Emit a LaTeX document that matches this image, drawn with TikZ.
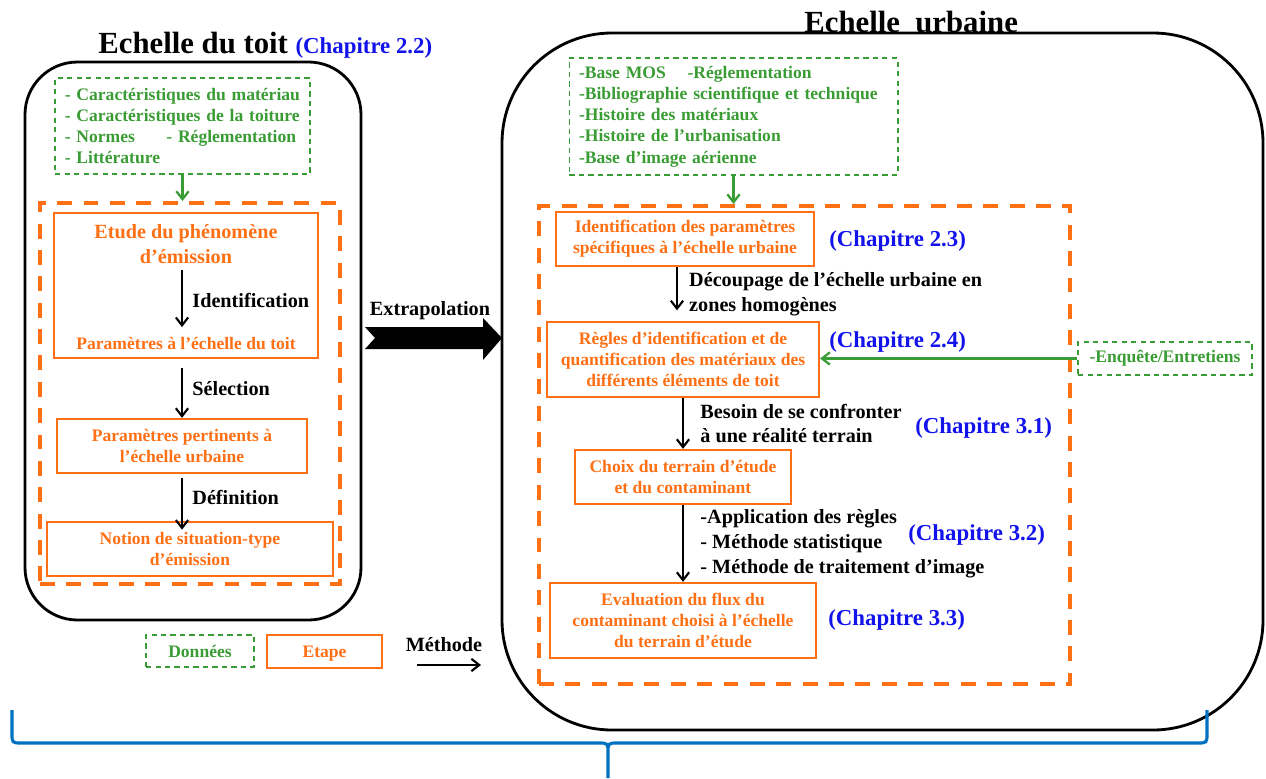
\documentclass[tikz,border=0pt]{standalone}
\usepackage{fontspec}
\setmainfont{Liberation Serif}
\usepackage{tikz}
\usetikzlibrary{arrows.meta,calc,positioning}
\definecolor{DataGreen}{RGB}{58,156,52}
\definecolor{StepOrange}{RGB}{255,111,20}
\definecolor{ChapBlue}{RGB}{18,18,235}
\definecolor{BraceBlue}{RGB}{0,112,192}
\newcommand\datfont{\bfseries\fontsize{10}{12.1}\selectfont}
\newcommand\lblfont{\bfseries\fontsize{11.5}{14.2}\selectfont}
\newcommand\chapfont{\bfseries\fontsize{13}{15}\selectfont}
\newcommand\titfont{\bfseries\fontsize{17.5}{20}\selectfont}
\begin{document}
\begin{tikzpicture}[x=.02cm,y=-.02cm,
  datbox/.style={draw=DataGreen,text=DataGreen,line width=1pt,dash pattern=on 3pt off 2.4pt,font=\datfont,inner xsep=5.5pt},
  stepbox/.style={draw=StepOrange,text=StepOrange,line width=1.3pt,font=\datfont,align=center,inner sep=0pt},
  zone/.style={draw=StepOrange,line width=2.3pt,dash pattern=on 8.5pt off 6.5pt,inner sep=0pt},
  frame/.style={draw,line width=1.6pt},
  lbl/.style={font=\lblfont,align=left},
  chap/.style={font=\chapfont,text=ChapBlue,anchor=west,inner sep=0pt},
  meth/.style={-{Straight Barb[length=4.5pt,width=7pt]},line width=1.2pt},
  datarrow/.style={meth,DataGreen,line width=1.3pt}]
\useasboundingbox (0,0) rectangle (1266,778);
\draw[frame,rounded corners=1.05cm] (25,62) rectangle (361,620);
\draw[frame,rounded corners=2.2cm] (502,33) rectangle (1263,730);
\node[font=\titfont,anchor=base west,inner sep=0pt] (titoit) at (98,53) {Echelle du toit {\chapfont\color{ChapBlue}(Chapitre 2.2)}};
\node[font=\titfont,anchor=base west,inner sep=0pt] (titurb) at (804,32) {Echelle\ \ urbaine};
\node[datbox,text width=4.71cm,minimum height=1.92cm,align=left] (datL) at (182.5,126) {- Caractéristiques du matériau\\- Caractéristiques de la toiture\\\makebox[57.8pt][l]{- Normes}- Réglementation\\- Littérature};
\node[zone,minimum width=6cm,minimum height=7.62cm] (zoneL) at (190,393.5) {};
\draw[datarrow] (datL.south) -- (datL.south |- zoneL.north);
\node[stepbox,minimum width=5.28cm,minimum height=2.9cm] (etudebox) at (186,285.5) {};
\node[text=StepOrange,font=\lblfont,align=center] (etude) at (186,244.5) {Etude du phénomène\\d’émission};
\node[text=StepOrange,font=\datfont] (partoit) at (186,343) {Paramètres à l’échelle du toit};
\node[stepbox,minimum width=5cm,minimum height=1.08cm] (pert) at (182,446) {Paramètres pertinents à\\l’échelle urbaine};
\node[stepbox,minimum width=5.72cm,minimum height=1.08cm] (notion) at (190,549) {Notion de situation-type\\d’émission};
\coordinate (colL) at (182,0);
\draw[meth,shorten >=2pt] (etude.south -| colL) -- node[lbl,right=2pt] (lbident) {Identification} (partoit.north -| colL);
\draw[meth,shorten <=5pt] (etudebox.south -| colL) -- node[lbl,right=2pt] (lbsel) {Sélection} (pert.north -| colL);
\draw[meth,shorten <=2pt,shorten >=-5pt] (pert.south -| colL) -- node[lbl,right=2pt] (lbdef) {Définition} (notion.north -| colL);
\node[datbox,minimum width=2.16cm,minimum height=.64cm] (legdat) at (200,651) {Données};
\node[stepbox,minimum width=2.3cm,minimum height=.66cm,text depth=0pt] (legstep) at (324.5,651.5) {Etape};
\node[lbl] (legmeth) at (444,645) {Méthode};
\coordinate (methA) at (417,665);\coordinate (methB) at (481,665);
\draw[meth] (methA) -- (methB);
\node[lbl] (extrap) at (430,311) {Extrapolation};
\fill (365,327) -- (483,327) -- (483,318) -- (502,338) -- (483,360) -- (483,349) -- (365,349) -- (375,338) -- cycle;
\node[datbox,text width=6.18cm,minimum height=2.34cm,align=left] (datR) at (733.5,116.5) {\makebox[61.8pt][l]{-Base MOS}-Réglementation\\-Bibliographie scientifique et technique\\-Histoire des matériaux\\-Histoire de l’urbanisation\\-Base d’image aérienne};
\node[zone,minimum width=10.62cm,minimum height=9.56cm] (zoneR) at (804.5,445) {};
\draw[datarrow] (datR.south) -- (datR.south |- zoneR.north);
\node[stepbox,minimum width=5.16cm,minimum height=1.08cm] (idpar) at (685,239) {Identification des paramètres\\spécifiques à l’échelle urbaine};
\node[stepbox,minimum width=5.44cm,minimum height=1.5cm] (regles) at (683,359.5) {Règles d’identification et de\\quantification des matériaux des\\différents éléments de toit};
\node[stepbox,minimum width=4.32cm,minimum height=1.08cm] (choix) at (683,477) {Choix du terrain d’étude\\et du contaminant};
\node[stepbox,minimum width=5.32cm,minimum height=1.5cm] (evalu) at (683,620.5) {Evaluation du flux du\\contaminant choisi à l’échelle\\du terrain d’étude};
\node[datbox,minimum width=3.48cm,minimum height=.66cm] (enq) at (1165,358.5) {-Enquête/Entretiens};
\coordinate (colR) at (677,0);
\draw[meth,shorten >=6pt] (idpar.south -| colR) -- node[lbl,right=3pt] (lbdecoup) {Découpage de l’échelle urbaine en\\zones homogènes} (regles.north -| colR);
\draw[meth] (regles.south) -- node[lbl,right=6pt] (lbbesoin) {Besoin de se confronter\\à une réalité terrain} (choix.north);
\draw[meth] (choix.south) -- node[lbl,right=6pt] (lbappli) {-Application des règles\\- Méthode statistique\\- Méthode de traitement d’image} (evalu.north);
\draw[datarrow] (enq.west) -- (enq.west -| regles.east);
\node[chap] (ch23) at (829,241) {(Chapitre 2.3)};
\node[chap] (ch24) at (829,342) {(Chapitre 2.4)};
\node[chap] (ch31) at (915,428) {(Chapitre 3.1)};
\node[chap] (ch32) at (908,535) {(Chapitre 3.2)};
\node[chap] (ch33) at (828,620) {(Chapitre 3.3)};
\draw[BraceBlue,line width=1.8pt] (12,710) -- (12,733) .. controls (12,743) .. (22,743) -- (598,743) .. controls (608,743) .. (608,753) -- (608,778)
  (608,753) .. controls (608,743) .. (618,743) -- (1197,743) .. controls (1207,743) .. (1207,733) -- (1207,710);
\end{tikzpicture}
\end{document}
